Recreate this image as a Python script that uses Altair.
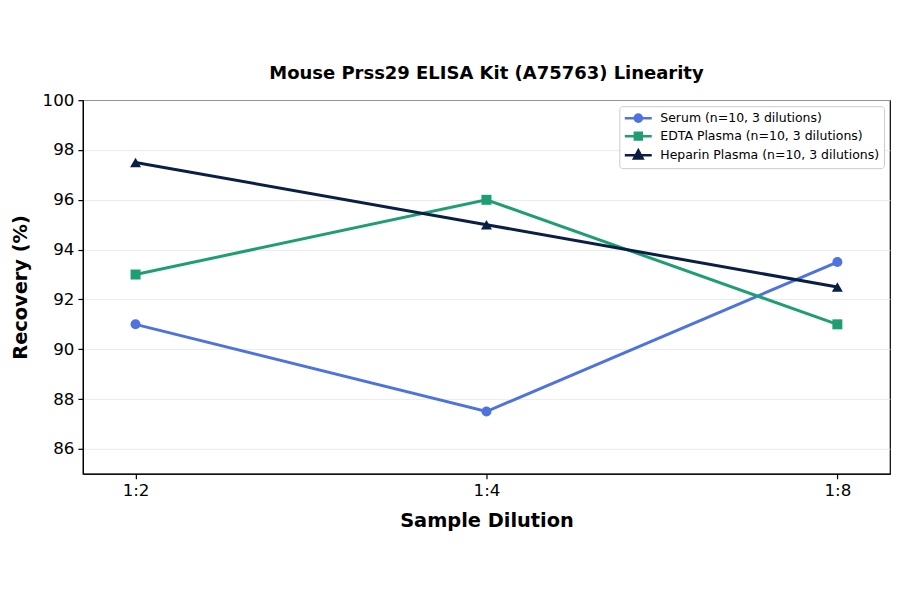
import altair as alt
import pandas as pd

dilutions = ["1:2", "1:4", "1:8"]
series_names = [
    "Serum (n=10, 3 dilutions)",
    "EDTA Plasma (n=10, 3 dilutions)",
    "Heparin Plasma (n=10, 3 dilutions)",
]
serum = [91.0, 87.5, 93.5]
edta = [93.0, 96.0, 91.0]
heparin = [97.5, 95.0, 92.5]
colors = ["#4e73df", "#1f9e74", "#0a1f44"]
marker_shapes = ["circle", "square", "triangle-up"]
marker_sizes = [100, 100, 120]
y_ticks = [86, 88, 90, 92, 94, 96, 98, 100]

# legend symbols: line segment + marker (unit = sqrt(symbolSize)/2)
legend_paths = [
    "M-1,0L3.15,0M1.63,0A0.55,0.55,0,1,1,0.53,0A0.55,0.55,0,1,1,1.63,0Z",
    "M-1,0L3.15,0M0.55,-0.53L1.61,-0.53L1.61,0.53L0.55,0.53Z",
    "M-1,0L3.15,0M1.08,-0.72L1.74,0.52L0.42,0.52Z",
]

rows = []
for name, vals in zip(series_names, [serum, edta, heparin]):
    for d, v in zip(dilutions, vals):
        rows.append({"dilution": d, "recovery": v, "series": name})
df = pd.DataFrame(rows)

FONT = "DejaVu Sans"

x_enc = alt.X(
    "dilution:N",
    sort=dilutions,
    scale=alt.Scale(type="point", padding=0.15, domain=dilutions),
    title="Sample Dilution",
    axis=alt.Axis(labelAngle=0, labelPadding=4, titlePadding=12),
)
y_enc = alt.Y(
    "recovery:Q",
    scale=alt.Scale(domain=[85, 100], nice=False, zero=False),
    title="Recovery (%)",
    axis=alt.Axis(values=y_ticks, labelPadding=4, titlePadding=12),
)

base = alt.Chart(df)

layers = []
for name, col, shp, sz in zip(series_names, colors, marker_shapes, marker_sizes):
    sub = base.transform_filter(alt.datum.series == name)
    layers.append(sub.mark_line(strokeWidth=3, color=col).encode(x=x_enc, y=y_enc))
    layers.append(
        sub.mark_point(filled=True, shape=shp, size=sz, opacity=1, color=col).encode(x=x_enc, y=y_enc)
    )

leg = alt.Legend(title=None)
legend_layer = base.transform_filter(alt.datum.dilution == "1:2").mark_point(
    clip=True, strokeWidth=2.5, opacity=1
).encode(
    x=x_enc,
    y=alt.value(-2000),
    stroke=alt.Stroke("series:N", scale=alt.Scale(domain=series_names, range=colors), legend=leg),
    fill=alt.Fill("series:N", scale=alt.Scale(domain=series_names, range=colors), legend=leg),
    shape=alt.Shape("series:N", scale=alt.Scale(domain=series_names, range=legend_paths), legend=leg),
)
layers.append(legend_layer)

chart = alt.layer(*layers).properties(
    width=808,
    height=374,
    padding={"left": 2, "top": 57, "right": 2, "bottom": 0},
    title=alt.TitleParams(
        "Mouse Prss29 ELISA Kit (A75763) Linearity",
        font=FONT, fontSize=18, fontWeight="bold", color="black", offset=9, anchor="middle",
    ),
).configure_view(
    stroke="black", strokeWidth=1.2
).configure_axis(
    domainColor="black", domainWidth=1.2,
    tickColor="black", tickWidth=1.2, tickSize=5,
    gridColor="#e6e6e6", gridWidth=0.8,
    labelFont=FONT, labelFontSize=16.7, labelColor="black",
    titleFont=FONT, titleFontSize=19.4, titleFontWeight="bold", titleColor="black",
).configure_legend(
    orient="top-right", offset=6, padding=4,
    strokeColor="#cccccc", fillColor="white", cornerRadius=3,
    labelFont=FONT, labelFontSize=12.5, labelColor="black", labelOffset=21, labelLimit=400,
    symbolSize=169, symbolStrokeWidth=2.5, rowPadding=0,
)

chart.save("out.html", embed_options={"renderer": "svg", "actions": False})
